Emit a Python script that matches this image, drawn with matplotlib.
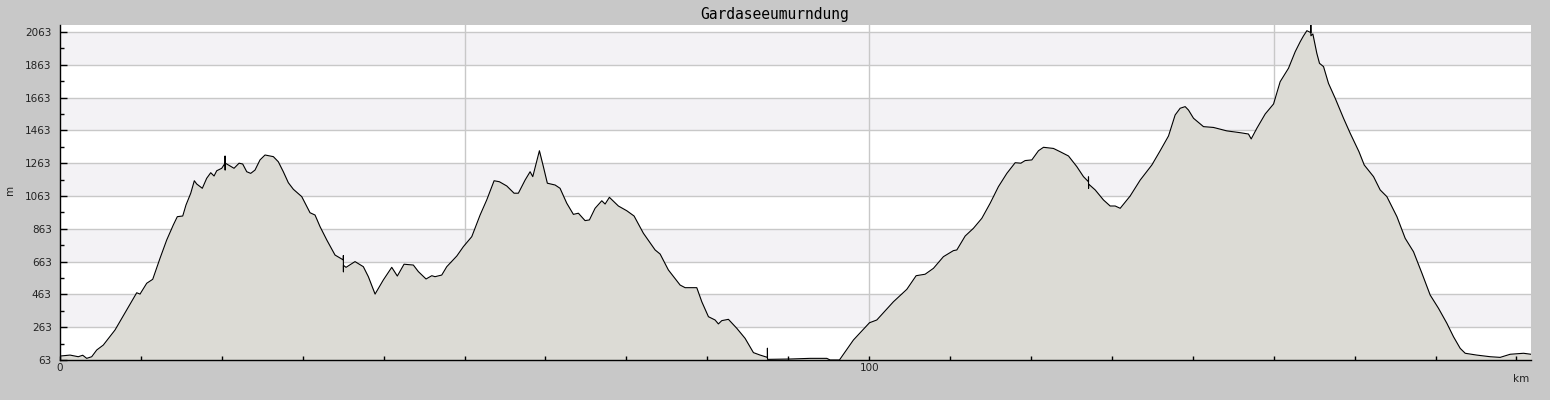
import matplotlib
matplotlib.use("Agg")
import matplotlib.pyplot as plt
import numpy as np
from matplotlib.ticker import MultipleLocator, FixedLocator

title = "Gardaseeumurndung"

km = [0, 1.24, 2.26, 2.81, 3.30, 3.92, 4.54, 5.35, 6.80, 8.24, 9.48, 9.89, 10.72, 11.46,
      12.36, 13.19, 14.00, 14.50, 15.17, 15.57, 16.16, 16.60, 16.90, 17.59, 18.13, 18.63,
      19.04, 19.37, 19.99, 20.40, 20.40, 20.41, 20.41, 20.61, 21.51, 22.13, 22.58, 23.08,
      23.57, 24.10, 24.72, 25.34, 26.37, 26.98, 27.60, 28.22, 28.84, 29.88, 30.90, 31.52,
      32.14, 32.97, 33.99, 35.02, 35.02, 35.03, 35.03, 35.35, 36.46, 37.49, 38.11, 38.94,
      39.96, 41.00, 41.69, 42.52, 43.67, 44.29, 45.24, 45.95, 46.35, 47.18, 47.80, 49.04,
      49.85, 50.89, 51.92, 52.74, 53.65, 54.30, 55.22, 56.12, 56.65, 57.48, 58.10, 58.43,
      59.25, 59.74, 60.23, 61.19, 61.80, 62.63, 63.45, 64.07, 64.89, 65.43, 66.13, 66.96,
      67.37, 67.90, 69.01, 70.05, 70.95, 72.10, 73.55, 74.17, 75.19, 76.64, 77.26, 78.70,
      79.32, 80.14, 80.96, 81.37, 81.79, 82.61, 83.65, 84.67, 85.70, 86.53, 87.43, 87.43,
      87.44, 87.64, 90.23, 92.71, 94.77, 95.18, 96.33, 98.06, 100.04, 100.95, 103.00,
      104.66, 105.81, 106.92, 107.95, 109.18, 110.42, 110.84, 111.87, 112.89, 113.93,
      114.96, 115.98, 117.02, 118.05, 118.75, 119.28, 120.11, 120.93, 121.55, 122.78,
      123.61, 124.64, 125.67, 126.49, 127.11, 127.11, 127.12, 127.12, 127.94, 128.96,
      129.79, 130.41, 131.03, 132.26, 133.50, 134.94, 135.97, 137.00, 137.82, 138.44,
      139.06, 139.47, 140.09, 141.32, 142.56, 144.21, 145.86, 146.88, 147.22, 147.92,
      148.95, 149.98, 150.80, 151.83, 152.66, 153.28, 153.68, 154.10, 154.59, 154.59,
      154.60, 154.84, 155.33, 155.66, 156.16, 156.77, 157.60, 158.63, 159.46, 160.54,
      161.19, 162.34, 163.16, 163.99, 165.23, 166.25, 167.28, 168.32, 169.34, 170.37,
      171.40, 172.22, 173.05, 173.67, 175.09, 176.76, 177.99, 179.23, 180.88, 181.79]

elev = [87, 93, 83, 92, 73, 83, 124, 154, 246, 368, 473, 465, 531, 555,
        683, 795, 886, 937, 941, 1008, 1080, 1156, 1136, 1110, 1171, 1205,
        1185, 1217, 1232, 1263, 1307, 1221, 1263, 1258, 1232, 1263, 1258, 1211,
        1201, 1221, 1283, 1313, 1303, 1272, 1211, 1144, 1104, 1059, 961, 947,
        876, 795, 703, 673, 700, 600, 640, 628, 663, 632, 571, 465,
        551, 628, 575, 647, 642, 602, 557, 577, 571, 581, 632, 697,
        754, 815, 947, 1039, 1156, 1150, 1124, 1080, 1080, 1160, 1211, 1181,
        1339, 1242, 1141, 1130, 1110, 1019, 951, 958, 913, 917, 988, 1034,
        1014, 1055, 1002, 973, 941, 836, 734, 709, 612, 520, 504, 504,
        418, 327, 307, 283, 303, 311, 256, 195, 108, 93, 79, 135,
        67, 67, 69, 73, 73, 63, 63, 185, 290, 307, 418,
        494, 577, 586, 622, 693, 730, 734, 819, 866, 927,
        1019, 1120, 1201, 1266, 1263, 1279, 1283, 1339, 1360, 1353,
        1333, 1307, 1242, 1181, 1150, 1180, 1110, 1136, 1100, 1039,
        1002, 1002, 988, 1063, 1160, 1252, 1339, 1429, 1557, 1598,
        1608, 1587, 1537, 1486, 1481, 1460, 1449, 1441, 1411, 1476,
        1563, 1624, 1760, 1842, 1943, 2004, 2039, 2071, 2059, 2106,
        2040, 2051, 1933, 1872, 1852, 1750, 1659, 1537, 1445, 1333,
        1252, 1181, 1100, 1059, 937, 805, 723, 592, 459, 378,
        287, 205, 134, 104, 93, 83, 79, 98, 104, 98]

y_ticks = [63, 263, 463, 663, 863, 1063, 1263, 1463, 1663, 1863, 2063]
x_labels = {0: "0", 100: "100"}

BG = "#c8c8c8"
BAND = "#f3f2f5"
FILL = "#dcdbd5"
GRID = "#c8c8c8"

fig = plt.figure(figsize=(15.5, 4), dpi=100, facecolor=BG)
ax = fig.add_axes([60/1550, 40/400, 1471/1550, 335/400])
ax.set_facecolor("white")
ax.set_xlim(0, 181.8)
ax.set_ylim(63, 2105.7)

for i in range(len(y_ticks)):
    if i % 2 == 1:
        ax.axhspan(y_ticks[i], y_ticks[i] + 200, color=BAND, lw=0, zorder=0)
for t in y_ticks:
    ax.axhline(t, color=GRID, lw=1, zorder=0.5)
for v in [50, 100, 150]:
    ax.axvline(v, color=GRID, lw=1, zorder=0.5)

ax.fill_between(km, elev, 63, color=FILL, lw=0, zorder=1)
ax.plot(km, elev, color="black", lw=0.8, zorder=2)

for s in ["top", "right"]:
    ax.spines[s].set_visible(False)
for s in ["left", "bottom"]:
    ax.spines[s].set_color("black")
    ax.spines[s].set_linewidth(1)
    ax.spines[s].set_zorder(3)

ax.set_yticks(y_ticks)
ax.set_yticklabels([str(t) for t in y_ticks])
ax.yaxis.set_minor_locator(FixedLocator([t + 100 for t in y_ticks[:-1]]))
ax.xaxis.set_major_locator(FixedLocator(list(x_labels.keys())))
ax.set_xticklabels(list(x_labels.values()))
ax.xaxis.set_minor_locator(MultipleLocator(10))
ax.tick_params(axis="both", which="both", direction="in", colors="black",
               labelcolor="#222222", labelsize=7.5)
ax.tick_params(axis="y", which="major", length=5, width=1, pad=6)
ax.tick_params(axis="y", which="minor", length=3, width=1)
ax.tick_params(axis="x", which="major", length=3, width=1, pad=2)
ax.tick_params(axis="x", which="minor", length=3, width=1)

fig.text(10/1550, 1 - 190/400, "m", rotation=90, ha="center", va="center",
         fontsize=7.5, color="#222222")
fig.text(1521/1550, 1 - 379/400, "km", ha="center", va="center",
         fontsize=7.5, color="#222222")
fig.text(0.5, 1 - 14/400, title, ha="center", va="center",
         fontsize=10.5, family="DejaVu Sans Mono", color="black")

fig.savefig("out.png", dpi=100, facecolor=BG)
